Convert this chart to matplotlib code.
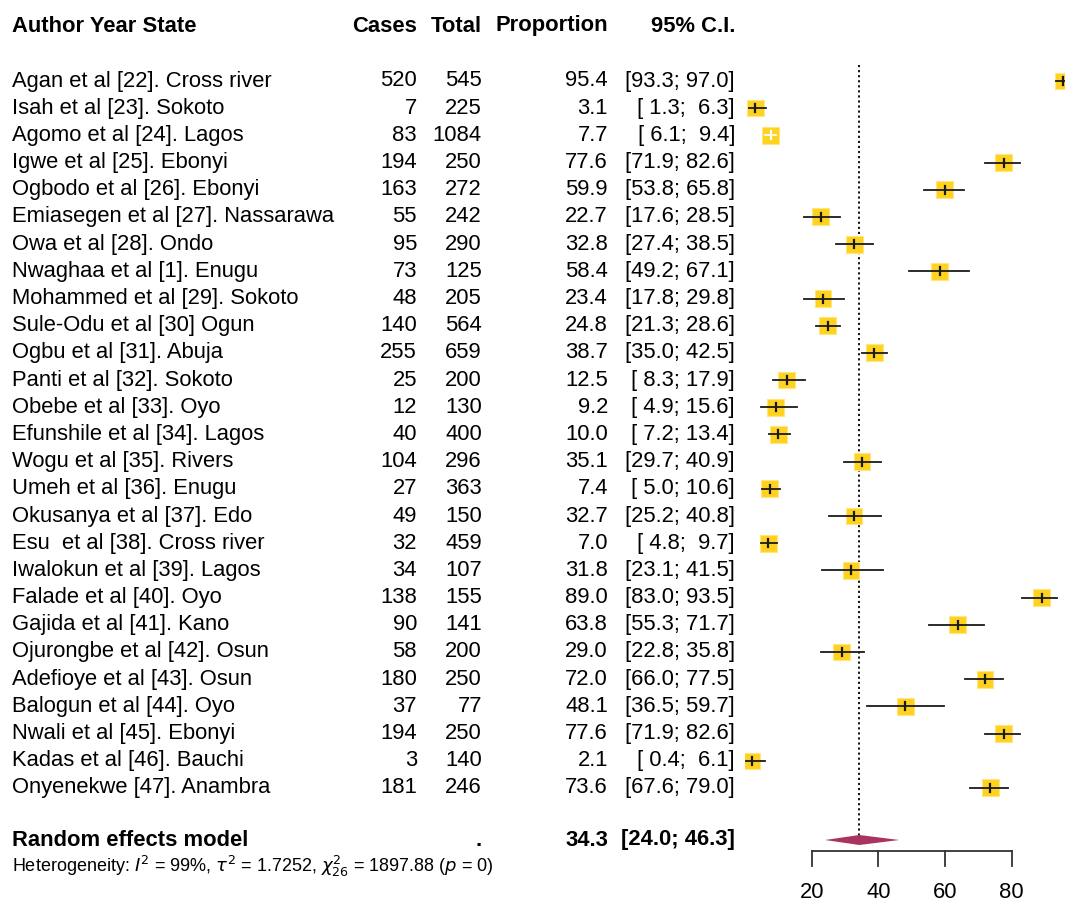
import matplotlib
matplotlib.use('Agg')
import matplotlib.pyplot as plt
import numpy as np

studies = ['Agan et al [22]. Cross river', 'Isah et al [23]. Sokoto', 'Agomo et al [24]. Lagos',
           'Igwe et al [25]. Ebonyi', 'Ogbodo et al [26]. Ebonyi', 'Emiasegen et al [27]. Nassarawa',
           'Owa et al [28]. Ondo', 'Nwaghaa et al [1]. Enugu', 'Mohammed et al [29]. Sokoto',
           'Sule-Odu et al [30] Ogun', 'Ogbu et al [31]. Abuja', 'Panti et al [32]. Sokoto',
           'Obebe et al [33]. Oyo', 'Efunshile et al [34]. Lagos', 'Wogu et al [35]. Rivers',
           'Umeh et al [36]. Enugu', 'Okusanya et al [37]. Edo', 'Esu  et al [38]. Cross river',
           'Iwalokun et al [39]. Lagos', 'Falade et al [40]. Oyo', 'Gajida et al [41]. Kano',
           'Ojurongbe et al [42]. Osun', 'Adefioye et al [43]. Osun', 'Balogun et al [44]. Oyo',
           'Nwali et al [45]. Ebonyi', 'Kadas et al [46]. Bauchi', 'Onyenekwe [47]. Anambra']
cases = [520, 7, 83, 194, 163, 55, 95, 73, 48, 140, 255, 25, 12, 40, 104, 27, 49, 32, 34, 138, 90,
         58, 180, 37, 194, 3, 181]
totals = [545, 225, 1084, 250, 272, 242, 290, 125, 205, 564, 659, 200, 130, 400, 296, 363, 150,
          459, 107, 155, 141, 200, 250, 77, 250, 140, 246]
prop = [95.4, 3.1, 7.7, 77.6, 59.9, 22.7, 32.8, 58.4, 23.4, 24.8, 38.7, 12.5, 9.2, 10.0, 35.1,
        7.4, 32.7, 7.0, 31.8, 89.0, 63.8, 29.0, 72.0, 48.1, 77.6, 2.1, 73.6]
ci_lo = [93.3, 1.3, 6.1, 71.9, 53.8, 17.6, 27.4, 49.2, 17.8, 21.3, 35.0, 8.3, 4.9, 7.2, 29.7,
         5.0, 25.2, 4.8, 23.1, 83.0, 55.3, 22.8, 66.0, 36.5, 71.9, 0.4, 67.6]
ci_hi = [97.0, 6.3, 9.4, 82.6, 65.8, 28.5, 38.5, 67.1, 29.8, 28.6, 42.5, 17.9, 15.6, 13.4, 40.9,
         10.6, 40.8, 9.7, 41.5, 93.5, 71.7, 35.8, 77.5, 59.7, 82.6, 6.1, 79.0]
re_est, re_lo, re_hi = 34.3, 24.0, 46.3
tau2 = 1.7252
ticks = [20, 40, 60, 80]

W, H = 1065, 907
FONT = 'Liberation Sans'
fs = 15.8

fig = plt.figure(figsize=(W / 100, H / 100), dpi=100)
fig.patch.set_facecolor('white')

# rows: index 0 at y=80px, spacing ~27.2px
row_px = 27.19
y_top = -81 / row_px
y_bot = (H - 81) / row_px

ax_t = fig.add_axes([0, 0, 1, 1])
ax_t.set_xlim(0, W)
ax_t.set_ylim(y_bot, y_top)
ax_t.axis('off')

x0_px = 745
xmax = (W - x0_px) / (1012 - 812) * 60
ax = fig.add_axes([x0_px / W, 0, (W - x0_px) / W, 1])
ax.set_xlim(0, xmax)
ax.set_ylim(y_bot, y_top)
ax.axis('off')

def px2row(p):
    return (p - 81) / row_px

# header
hy = px2row(26)
kw = dict(fontsize=fs, family=FONT, va='center', fontweight='bold')
ax_t.text(12, hy, 'Author Year State', ha='left', **kw)
ax_t.text(417, hy, 'Cases', ha='right', **kw)
ax_t.text(482, hy, 'Total', ha='right', **kw)
ax_t.text(608, hy, 'Proportion', ha='right', **kw)
ax_t.text(735, hy, '95% C.I.', ha='right', **kw)

kw = dict(fontsize=fs, family=FONT, va='center')
for i, s in enumerate(studies):
    ax_t.text(12, i, s, ha='left', **kw)
    ax_t.text(417, i, str(cases[i]), ha='right', **kw)
    ax_t.text(482, i, str(totals[i]), ha='right', **kw)
    ax_t.text(608, i, f'{prop[i]:.1f}', ha='right', **kw)
    ax_t.text(735, i, f'[{ci_lo[i]:4.1f}; {ci_hi[i]:4.1f}]', ha='right', **kw)

# random effects row
ry = px2row(840)
kw = dict(fontsize=fs, family=FONT, va='center', fontweight='bold')
ax_t.text(12, ry, 'Random effects model', ha='left', **kw)
ax_t.text(482, ry, '.', ha='right', **kw)
ax_t.text(608, ry, f'{re_est:.1f}', ha='right', **kw)
ax_t.text(735, ry, f'[{re_lo:.1f}; {re_hi:.1f}]', ha='right', **kw)
ax_t.text(12, px2row(866),
          r'Heterogeneity: $I^2$ = 99%, $\tau^2$ = ' + f'{tau2:.4f}' +
          r', $\chi^2_{26}$ = 1897.88 ($p$ = 0)',
          ha='left', va='center', fontsize=13, family=FONT)

# squares sized by random-effects weight
c = np.array(cases, float)
n = np.array(totals, float)
v = 1 / c + 1 / (n - c)
w = 1 / (v + tau2)
side_px = 17 * np.sqrt(w / w.max())
units_per_px = xmax / (W - x0_px)
ax.scatter(prop, range(len(prop)), s=(side_px * 0.72) ** 2, marker='s',
           color='#FFD21F', edgecolor='#FFE680', linewidth=0.8, zorder=3)
for i in range(len(prop)):
    half = side_px[i] / 2 * units_per_px
    inside = ci_lo[i] >= prop[i] - half and ci_hi[i] <= prop[i] + half and ci_hi[i] <= xmax
    col = 'white' if inside else '#1a1a1a'
    ax.plot([ci_lo[i], ci_hi[i]], [i, i], color=col, lw=1.3, zorder=4)
    ax.plot([prop[i], prop[i]], [i - 4 / row_px, i + 4 / row_px], color=col, lw=1.6, zorder=4)

# reference line and diamond
ax.plot([re_est, re_est], [px2row(65), ry - 0.15], color='black', lw=1.3,
        linestyle=(0, (1.2, 1.6)), zorder=2)
dh = 5 / row_px
ax.fill([re_lo, re_est, re_hi, re_est], [ry, ry - dh, ry, ry + dh],
        color='#A8345F', zorder=5, lw=0)

# x axis
ay = px2row(851)
ax.plot([ticks[0], ticks[-1]], [ay, ay], color='#333333', lw=1.3, clip_on=False)
for t in ticks:
    ax.plot([t, t], [ay, px2row(866)], color='#333333', lw=1.3, clip_on=False)
    ax.text(t, px2row(893), str(t), ha='center', va='center', fontsize=fs, family=FONT)

fig.savefig('out.png', dpi=100, facecolor='white')
